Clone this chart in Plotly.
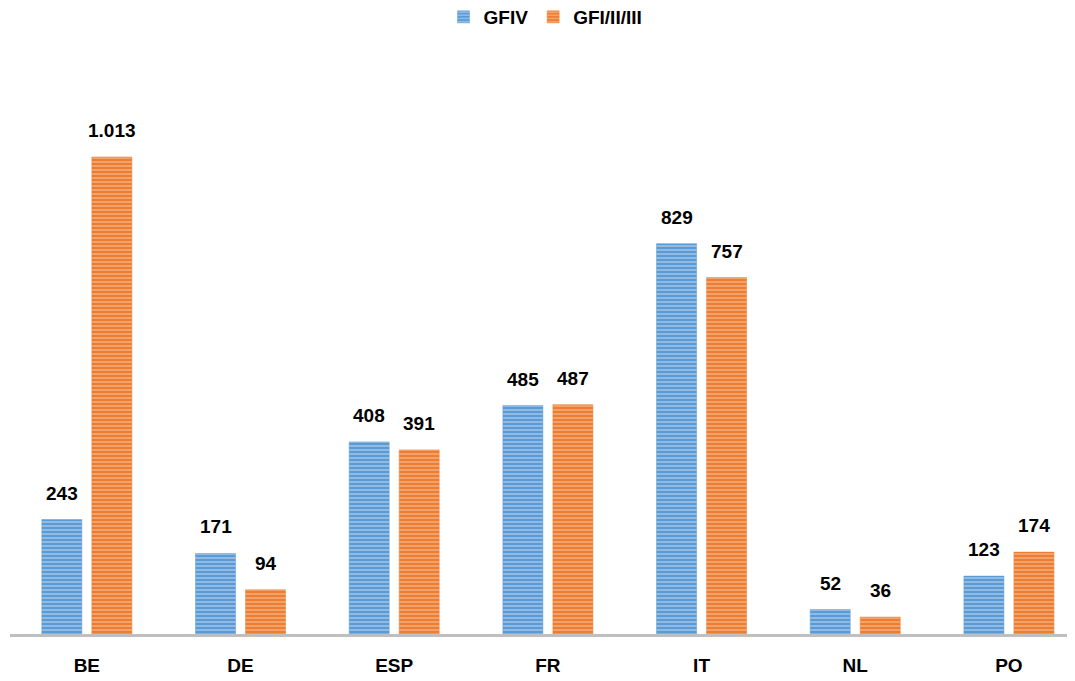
import plotly.graph_objects as go

categories = ["BE", "DE", "ESP", "FR", "IT", "NL", "PO"]
gfiv = [243, 171, 408, 485, 829, 52, 123]
gfi_ii_iii = [1013, 94, 391, 487, 757, 36, 174]
series_names = ["GFIV", "GFI/II/III"]

FONT = "Liberation Sans, Arial, sans-serif"
BLUE = "#5B9BD5"
BLUE_LT = "#D3E4F4"
ORANGE = "#ED7D31"
ORANGE_LT = "#F9D2B5"

x_idx = list(range(len(categories)))

fig = go.Figure()
for name, vals, col, lt in [(series_names[0], gfiv, BLUE, BLUE_LT),
                            (series_names[1], gfi_ii_iii, ORANGE, ORANGE_LT)]:
    fig.add_trace(go.Bar(
        name=name, x=x_idx, y=vals,
        marker=dict(color=col, line=dict(color=col, width=0.5),
                    pattern=dict(shape="-", fgcolor=lt, size=4, solidity=0.45)),
    ))

bargap = 0.349
groupgap = 0.2
slot = (1 - bargap) / 2
for k, vals in enumerate([gfiv, gfi_ii_iii]):
    off = (k - 0.5) * slot
    for i, v in enumerate(vals):
        fig.add_annotation(
            x=i + off, y=v, xref="x", yref="y",
            text=f"{v:,}".replace(",", "."),
            showarrow=False, yanchor="bottom", yshift=14,
            font=dict(family=FONT, size=19, color="#000000"),
        )

fig.update_layout(
    width=1067, height=673,
    margin=dict(l=2, r=0, t=52, b=47),
    plot_bgcolor="white", paper_bgcolor="white",
    barmode="group", bargap=bargap, bargroupgap=groupgap,
    font=dict(family=FONT, size=19, color="#000000"),
    legend=dict(orientation="h", x=0.5 + 4 / 1067, xanchor="center", xref="container",
                y=1 - 9 / 673, yanchor="middle", yref="container",
                font=dict(family=FONT, size=19, color="#000000", weight="bold"),
                itemwidth=30, tracegroupgap=0),
    xaxis=dict(tickmode="array", tickvals=x_idx, ticktext=[f"<b>{c}</b>" for c in categories],
               range=[-0.5, 6.43], showline=True, linecolor="#BFBFBF", linewidth=3,
               ticks="outside", ticklen=12, tickcolor="rgba(0,0,0,0)",
               showgrid=False, zeroline=False, fixedrange=True),
    yaxis=dict(range=[0, 1219], visible=False, showgrid=False, zeroline=False),
    showlegend=True,
)
fig.update_annotations(font_weight="bold")

fig.write_html("out.html")
